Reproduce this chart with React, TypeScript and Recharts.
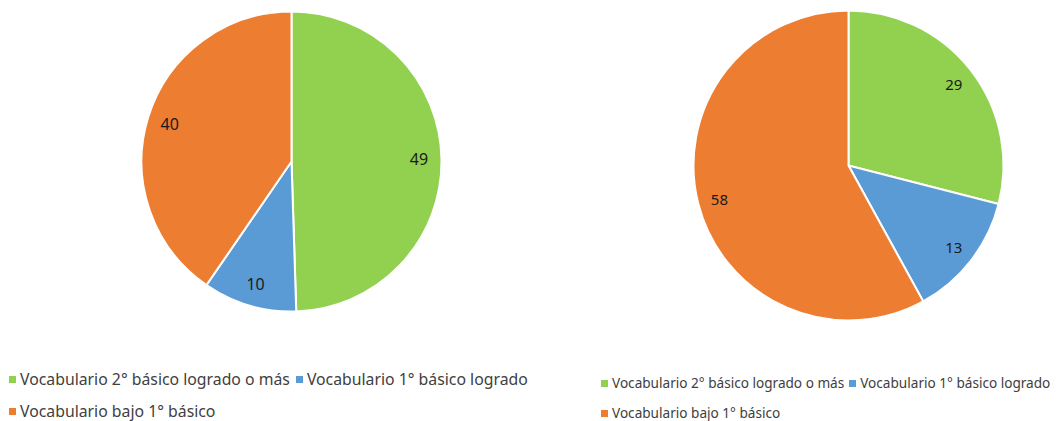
import React from 'react';
import { PieChart, Pie, Cell, Legend } from 'recharts';

const CATEGORIES = [
  'Vocabulario 2° básico logrado o más',
  'Vocabulario 1° básico logrado',
  'Vocabulario bajo 1° básico',
];
const COLORS = ['#92D050', '#5B9BD5', '#ED7D31'];
const LEFT_VALUES = [49, 10, 40];
const RIGHT_VALUES = [29, 13, 58];
const LEGEND_ROWS = [[0, 1], [2]];

const FONT = '"Noto Sans", sans-serif';
const RADIAN = Math.PI / 180;

const leftData = CATEGORIES.map((name, i) => ({ name, value: LEFT_VALUES[i] }));
const rightData = CATEGORIES.map((name, i) => ({ name, value: RIGHT_VALUES[i] }));

const renderLabel = (fontSize: number, ratio: number) => (props: any) => {
  const { cx, cy, midAngle, outerRadius, value } = props;
  const r = outerRadius * ratio;
  const x = cx + r * Math.cos(-midAngle * RADIAN);
  const y = cy + r * Math.sin(-midAngle * RADIAN);
  return (
    <text x={x} y={y} fill="#1a1a1a" fontSize={fontSize} fontFamily={FONT}
      textAnchor="middle" dominantBaseline="central">
      {value}
    </text>
  );
};

// keep legend in category order (recharts sorts payload by default)
const makeLegend = (fontSize: number, lineHeight: number, rowGap: number, itemGap: number) => ({ payload }: any) => {
  const items = CATEGORIES.map((name, i) => {
    const found = (payload || []).find((p: any) => p.value === name);
    return { name, color: found ? found.color : COLORS[i] };
  });
  return (
    <div style={{ fontFamily: FONT, fontSize, color: '#404040', lineHeight: `${lineHeight}px` }}>
      {LEGEND_ROWS.map((row, r) => (
        <div key={r} style={{ display: 'flex', marginTop: r > 0 ? rowGap : 0 }}>
          {row.map((i) => (
            <div key={i} style={{ display: 'flex', alignItems: 'center', marginRight: itemGap, whiteSpace: 'nowrap' }}>
              <span style={{ width: 7, height: 7, background: items[i].color, marginRight: 4, display: 'inline-block' }} />
              <span>{items[i].name}</span>
            </div>
          ))}
        </div>
      ))}
    </div>
  );
};

export default function App() {
  return (
    <div style={{ position: 'absolute', left: 0, top: 0, width: 1063, height: 421, background: '#fff', overflow: 'hidden' }}>
      <div style={{ position: 'absolute', left: 0, top: 0 }}>
        <PieChart width={545} height={421} margin={{ top: 0, right: 0, bottom: 0, left: 0 }}>
          <Pie
            data={leftData}
            dataKey="value"
            nameKey="name"
            cx={291.5}
            cy={161.5}
            outerRadius={150}
            startAngle={90}
            endAngle={-270}
            stroke="#fff"
            strokeWidth={2}
            label={renderLabel(16, 0.85)}
            labelLine={false}
            isAnimationActive={false}
          >
            {leftData.map((_, i) => (
              <Cell key={`l-${i}`} fill={COLORS[i]} />
            ))}
          </Pie>
          <Legend
            verticalAlign="bottom"
            content={makeLegend(15.8, 20, 12, 6)}
            wrapperStyle={{ left: 9, bottom: 0, width: 536 }}
          />
        </PieChart>
      </div>
      <div style={{ position: 'absolute', left: 545, top: 0 }}>
        <PieChart width={518} height={421} margin={{ top: 0, right: 0, bottom: 0, left: 0 }}>
          <Pie
            data={rightData}
            dataKey="value"
            nameKey="name"
            cx={303.5}
            cy={165.5}
            outerRadius={155}
            startAngle={90}
            endAngle={-270}
            stroke="#fff"
            strokeWidth={2}
            label={renderLabel(15, 0.86)}
            labelLine={false}
            isAnimationActive={false}
          >
            {rightData.map((_, i) => (
              <Cell key={`r-${i}`} fill={COLORS[i]} />
            ))}
          </Pie>
          <Legend
            verticalAlign="bottom"
            content={makeLegend(13.6, 16, 14, 5)}
            wrapperStyle={{ left: 56, bottom: 0, width: 462 }}
          />
        </PieChart>
      </div>
    </div>
  );
}
